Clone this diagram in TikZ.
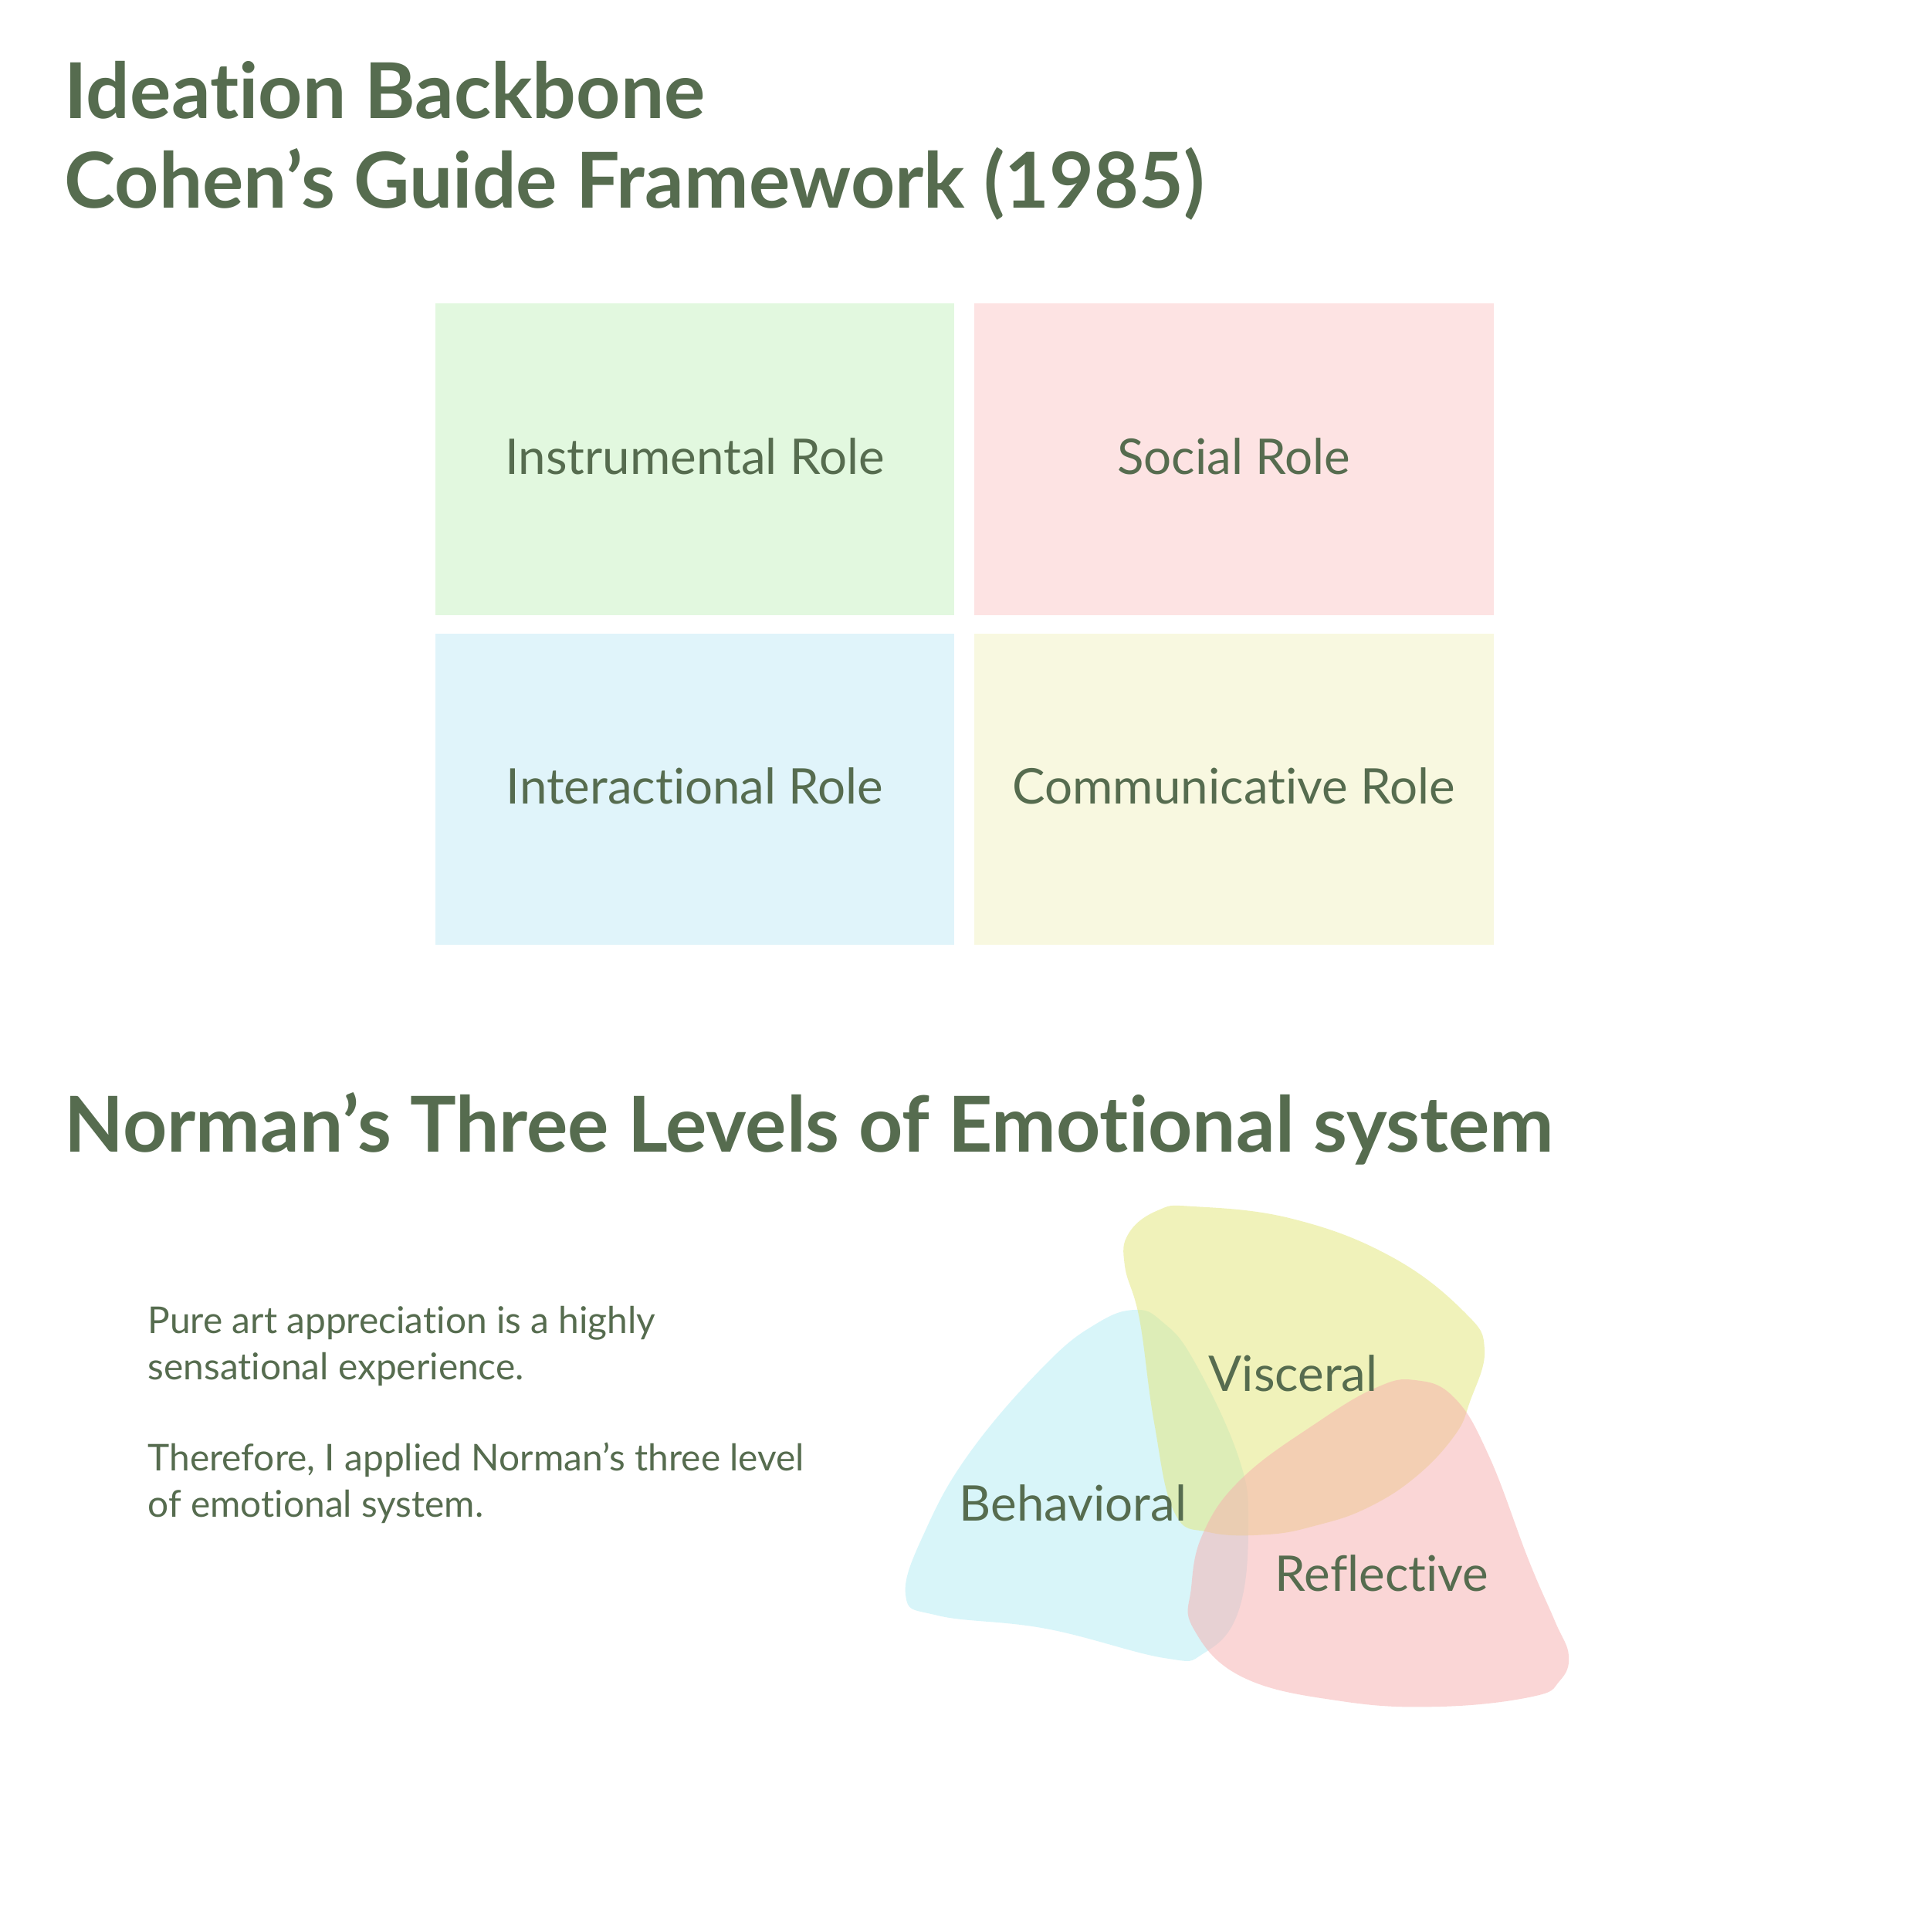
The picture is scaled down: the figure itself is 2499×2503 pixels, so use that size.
\documentclass[tikz,border=0pt]{standalone}
\usepackage{fontspec}
\setmainfont{Lato}[RawFeature=-liga]
\usetikzlibrary{positioning}
\definecolor{txt}{HTML}{566C4F}
\definecolor{cgreen}{HTML}{E2F8DF}
\definecolor{cpink}{HTML}{FDE3E3}
\definecolor{cblue}{HTML}{E0F4FA}
\definecolor{cyellow}{HTML}{F8F8E0}
\definecolor{bblue}{HTML}{B2ECF5}
\definecolor{byellow}{HTML}{E2E676}
\definecolor{bred}{HTML}{F7AEAE}
\tikzset{
  title/.style={anchor=base west, inner sep=0pt, text=txt, font=\fontsize{28.4}{34}\selectfont\bfseries},
  boxlabel/.style={anchor=base, inner sep=0pt, text=txt, font=\fontsize{18.1}{22}\selectfont},
  para/.style={anchor=base west, inner sep=0pt, text=txt, font=\fontsize{13.6}{17}\selectfont},
  blob/.style={fill opacity=0.5}
}
\begin{document}
\begin{tikzpicture}[x=0.01cm,y=-0.01cm]
\useasboundingbox (0,0) rectangle (2499,2503);
\fill[white] (0,0) rectangle (2499,2503);
% titles
\node[title] (t1) at (83,153) {Ideation Backbone};
\node[title] (t2) at (83,269) {Cohen’s Guide Framework (1985)};
% boxes
\fill[cgreen] (564,393) rectangle (1236,797);
\fill[cpink] (1262,393) rectangle (1935,797);
\fill[cblue] (564,821) rectangle (1236,1224);
\fill[cyellow] (1262,821) rectangle (1935,1224);
\node[boxlabel] (b1) at (900,614) {Instrumental Role};
\node[boxlabel] (b2) at (1598,614) {Social Role};
\node[boxlabel] (b3) at (900,1041) {Interactional Role};
\node[boxlabel] (b4) at (1598,1041) {Communicative Role};
% section title
\node[title] (t3) at (83,1492) {Norman’s Three Levels of Emotional system};
% paragraph
\node[para] (p1) at (191,1727) {Pure art appreciation is a highly};
\node[para] (p2) at (191,1787) {sensational experience.};
\node[para] (p3) at (191,1905) {Therefore, I applied Norman’s three level};
\node[para] (p4) at (191,1965) {of emotional system.};
% blobs
\fill[bblue,blob] plot[smooth cycle, tension=0.7] coordinates {(1470,1697) (1420,1715) (1355,1767) (1259,1878) (1200,1980) (1173,2066) (1215,2093) (1355,2110) (1508,2148) (1559,2142) (1604,2088) (1617,1976) (1604,1887) (1546,1762) (1505,1712)};
\fill[byellow,blob] plot[smooth cycle, tension=0.7] coordinates {(1462,1598) (1500,1568) (1546,1563) (1674,1579) (1802,1628) (1897,1700) (1923,1749) (1904,1816) (1884,1860) (1833,1914) (1770,1954) (1706,1976) (1642,1988) (1566,1985) (1521,1959) (1495,1843) (1476,1709) (1457,1640)};
\fill[bred,blob] plot[smooth cycle, tension=0.7] coordinates {(1833,1788) (1884,1811) (1929,1887) (1980,2021) (2014,2100) (2032,2145) (2020,2178) (1985,2198) (1865,2211) (1738,2204) (1610,2173) (1546,2110) (1543,2057) (1559,1985) (1610,1914) (1706,1843) (1782,1798)};
\node[boxlabel] (v) at (1675,1802) {Visceral};
\node[boxlabel] (bh) at (1390,1970) {Behavioral};
\node[boxlabel] (r) at (1790,2061) {Reflective};
\end{tikzpicture}
\end{document}
